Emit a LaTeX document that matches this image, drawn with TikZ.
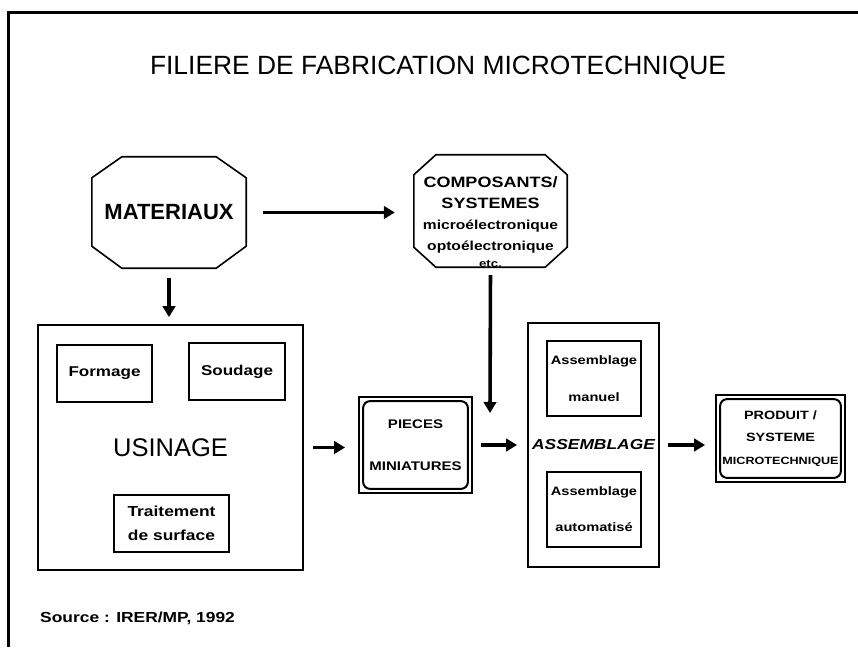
\documentclass[tikz,border=0pt]{standalone}
\usepackage{fontspec}
\setmainfont{Liberation Sans}
\newfontfamily\wide[FakeStretch=1.2]{Liberation Sans}
\usetikzlibrary{arrows.meta}

\begin{document}
\begin{tikzpicture}[x=1pt,y=-1pt,
  frameline/.style={line width=2.8pt},
  box/.style={draw,line width=1.8pt,inner sep=0pt},
  ghost/.style={inner sep=0pt},
  octline/.style={line width=1.6pt,line join=round},
  innerframe/.style={line width=2pt,rounded corners=7pt},
  flow/.style={line width=3.6pt,-{Triangle[length=11pt,width=12.5pt]}},
  lbl/.style={inner sep=0pt,align=center},
]
\useasboundingbox (0,0) rectangle (858,647);

% page frame (top and left edges)
\draw[frameline] (8.5,647) -- (8.5,12.5) -- (858,12.5);

% title
\node[lbl,font=\fontsize{26.4}{30}\selectfont] (title) at (438,68)
  {FILIERE DE FABRICATION MICROTECHNIQUE};

% MATERIAUX (octagon)
\node[ghost,minimum width=154pt,minimum height=111pt,
      font=\bfseries\fontsize{22}{26}\selectfont] (mat) at (169,212.5) {MATERIAUX};
\draw[octline] ([xshift=30pt]mat.north west) -- ([xshift=-30pt]mat.north east)
  -- ([yshift=-21pt]mat.north east) -- ([yshift=22pt]mat.south east)
  -- ([xshift=-30pt]mat.south east) -- ([xshift=30pt]mat.south west)
  -- ([yshift=22pt]mat.south west) -- ([yshift=-21pt]mat.north west) -- cycle;

% COMPOSANTS / SYSTEMES (octagon)
\node[ghost,minimum width=153pt,minimum height=112pt] (comp) at (490.5,211) {};
\draw[octline] ([xshift=22pt]comp.north west) -- ([xshift=-22pt]comp.north east)
  -- ([yshift=-20pt]comp.north east) -- ([yshift=20pt]comp.south east)
  -- ([xshift=-22pt]comp.south east) -- ([xshift=22pt]comp.south west)
  -- ([yshift=20pt]comp.south west) -- ([yshift=-20pt]comp.north west) -- cycle;
\node[lbl,anchor=north,font=\wide\bfseries\fontsize{15}{21.3}\selectfont] (comptxt) at (490.5,176)
  {COMPOSANTS/\\SYSTEMES\\
   {\fontsize{13}{21.3}\selectfont micro\'electronique}\\
   {\fontsize{13}{21.3}\selectfont opto\'electronique}\\[-5pt]
   {\fontsize{11}{16}\selectfont etc.}};

% USINAGE block
\node[box,minimum width=265pt,minimum height=245pt,
      font=\fontsize{25.5}{30}\selectfont] (us) at (170.5,447.5) {USINAGE};
\node[box,minimum width=95pt,minimum height=57pt,
      font=\wide\bfseries\fontsize{14.2}{20}\selectfont] (form) at (104.5,373.5) {Formage};
\node[box,minimum width=96pt,minimum height=57pt,
      font=\wide\bfseries\fontsize{14.2}{20}\selectfont] (soud) at (237,371.5) {Soudage};
\node[box,minimum width=115pt,minimum height=57pt,align=center,
      font=\wide\bfseries\fontsize{14.5}{24}\selectfont] (trait) at (171.5,523.5)
  {Traitement\\de surface};

% PIECES MINIATURES
\node[box,minimum width=113pt,minimum height=96pt,align=center,
      font=\wide\bfseries\fontsize{12.5}{42}\selectfont] (pc) at (415.5,445)
  {PIECES\\MINIATURES};
\draw[innerframe] ([xshift=5pt,yshift=-5pt]pc.north west)
  rectangle ([xshift=-5pt,yshift=5pt]pc.south east);

% ASSEMBLAGE block
\node[box,minimum width=131pt,minimum height=244pt,
      font=\wide\bfseries\itshape\fontsize{14.5}{20}\selectfont] (asm) at (593.5,445) {ASSEMBLAGE};
\node[box,minimum width=94pt,minimum height=75pt,align=center,
      font=\wide\bfseries\fontsize{12.2}{37}\selectfont] (man) at (594,378.5)
  {Assemblage\\manuel};
\node[box,minimum width=94pt,minimum height=75pt,align=center,
      font=\wide\bfseries\fontsize{12.2}{36}\selectfont] (auto) at (594,509.5)
  {Assemblage\\automatis\'e};

% PRODUIT / SYSTEME MICROTECHNIQUE
\node[box,minimum width=129pt,minimum height=87pt,align=center,
      font=\wide\bfseries\fontsize{12}{22.5}\selectfont] (prod) at (780.5,438.5)
  {PRODUIT /\\SYSTEME\\{\fontsize{10.5}{22.5}\selectfont MICROTECHNIQUE}};
\draw[innerframe] ([xshift=5pt,yshift=-5pt]prod.north west)
  rectangle ([xshift=-5pt,yshift=5pt]prod.south east);

% source
\node[lbl,anchor=west,font=\wide\bfseries\fontsize{14.5}{18}\selectfont] (src) at (40,618)
  {Source : IRER/MP, 1992};

% connectors
\coordinate (drop) at (490,413);
\draw[flow,line width=3.3pt,shorten <=17pt,shorten >=19pt] (mat.east) -- (mat.east -| comp.west);
\draw[flow,shorten <=10pt,shorten >=7pt] (mat.south) -- (mat.south |- us.north);
\draw[flow,shorten <=8pt] (comp.south) -- (drop);
\draw[flow,shorten <=9pt,shorten >=13pt] (us.east) -- (us.east -| pc.west);
\draw[flow,shorten <=8pt,shorten >=10pt] (pc.east) -- (pc.east -| asm.west);
\draw[flow,shorten <=8pt,shorten >=10pt] (asm.east) -- (asm.east -| prod.west);
\end{tikzpicture}
\end{document}
